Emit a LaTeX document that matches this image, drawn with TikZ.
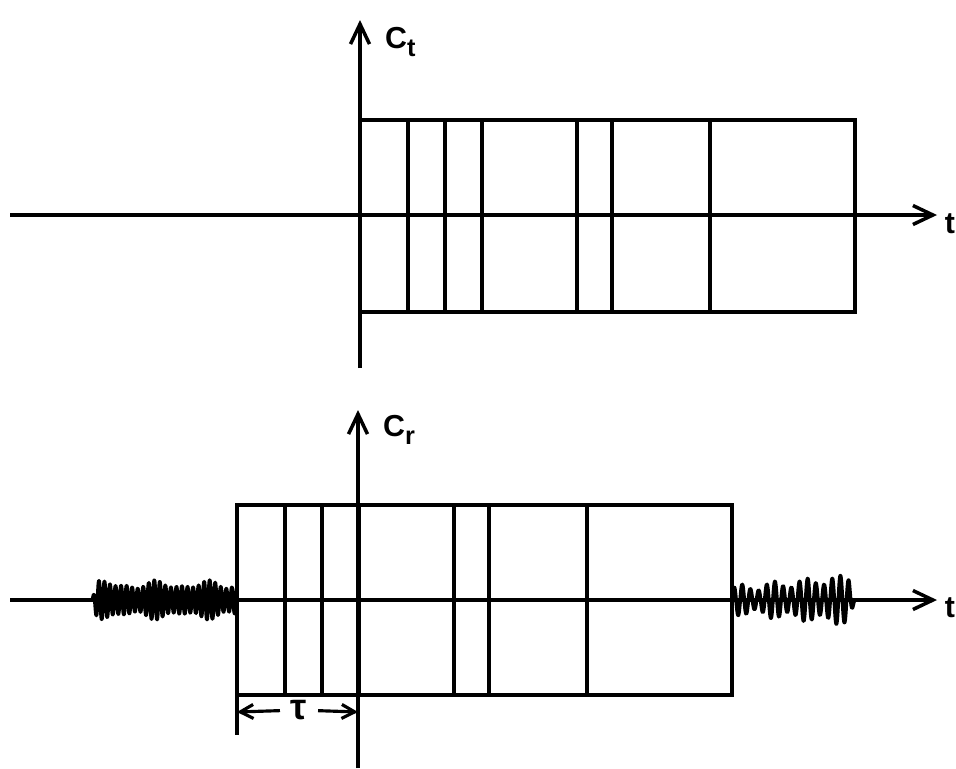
\documentclass[tikz,border=0pt]{standalone}
\usepackage{fontspec}
\setsansfont{Liberation Sans}
\usepackage{tikz}
\usetikzlibrary{arrows.meta,positioning,calc}
\newcommand{\bandes}{408,445,482,577,612,710}
\tikzset{
  axe/.style={-{Straight Barb[length=4mm,width=3.8mm,line width=2pt]}, line width=1.8pt},
  cadre/.style={line width=2.5pt},
  bruit/.style={line width=2.1pt, line join=round},
  fleche/.style={-{Straight Barb[length=2.6mm,width=2.8mm,line width=1.8pt]}, line width=1.8pt},
  lab/.style={font=\sffamily\bfseries\LARGE, inner sep=1pt},
}
\begin{document}
\begin{tikzpicture}[x=0.02cm, y=-0.02cm]
  \useasboundingbox (0,0) rectangle (956,768);
  % signal emis
  \coordinate (h1a) at (10,215);  \coordinate (h1b) at (937,215);
  \coordinate (v1a) at (360,368); \coordinate (v1b) at (360,20);
  \draw[cadre] (360,120) rectangle (855,312);
  \foreach \x in \bandes \draw[cadre] (\x,120) -- (\x,312);
  \draw[axe] (h1a) -- (h1b);
  \draw[axe] (v1a) -- (v1b);
  \node[lab, anchor=west] (ct) at (383,42) {C\raisebox{-0.5ex}{\Large t}};
  \node[lab, anchor=east] (t1) at (957,224) {t};
  % signal recu, decale de tau
  \coordinate (h2a) at (10,600);  \coordinate (h2b) at (937,600);
  \coordinate (v2a) at (358,768); \coordinate (v2b) at (358,410);
  \draw[cadre] (237,505) rectangle (732,695);
  \foreach \x in \bandes \draw[cadre] (\x-123,505) -- (\x-123,695);
  \draw[bruit] plot[domain=0:145, samples=500]
    (92+\x, {600-(15+3*sin(7*\x)+2*sin(13*\x))*min(1,\x/5)*sin(65*\x)});
  \draw[bruit] plot[domain=0:123, samples=500]
    (732+\x, {600-(11+11*\x/123+4*sin(11*\x))*min(1,(123-\x)/6)*sin(44*\x)});
  \draw[axe] (h2a) -- (h2b);
  \draw[axe] (v2a) -- (v2b);
  \node[lab, anchor=west] (cr) at (381,430) {C\raisebox{-0.5ex}{\Large r}};
  \node[lab, anchor=east] (t2) at (957,608) {t};
  % retard
  \draw[cadre] (237,695) -- (237,735);
  \coordinate (ta) at (237,712); \coordinate (tb) at (358,712);
  \node[lab, font=\sffamily\bfseries\huge, inner sep=6pt] (tau) at (299,710) {τ};
  \draw[fleche] (tau) -- (ta);
  \draw[fleche] (tau) -- (tb);
\end{tikzpicture}
\end{document}
